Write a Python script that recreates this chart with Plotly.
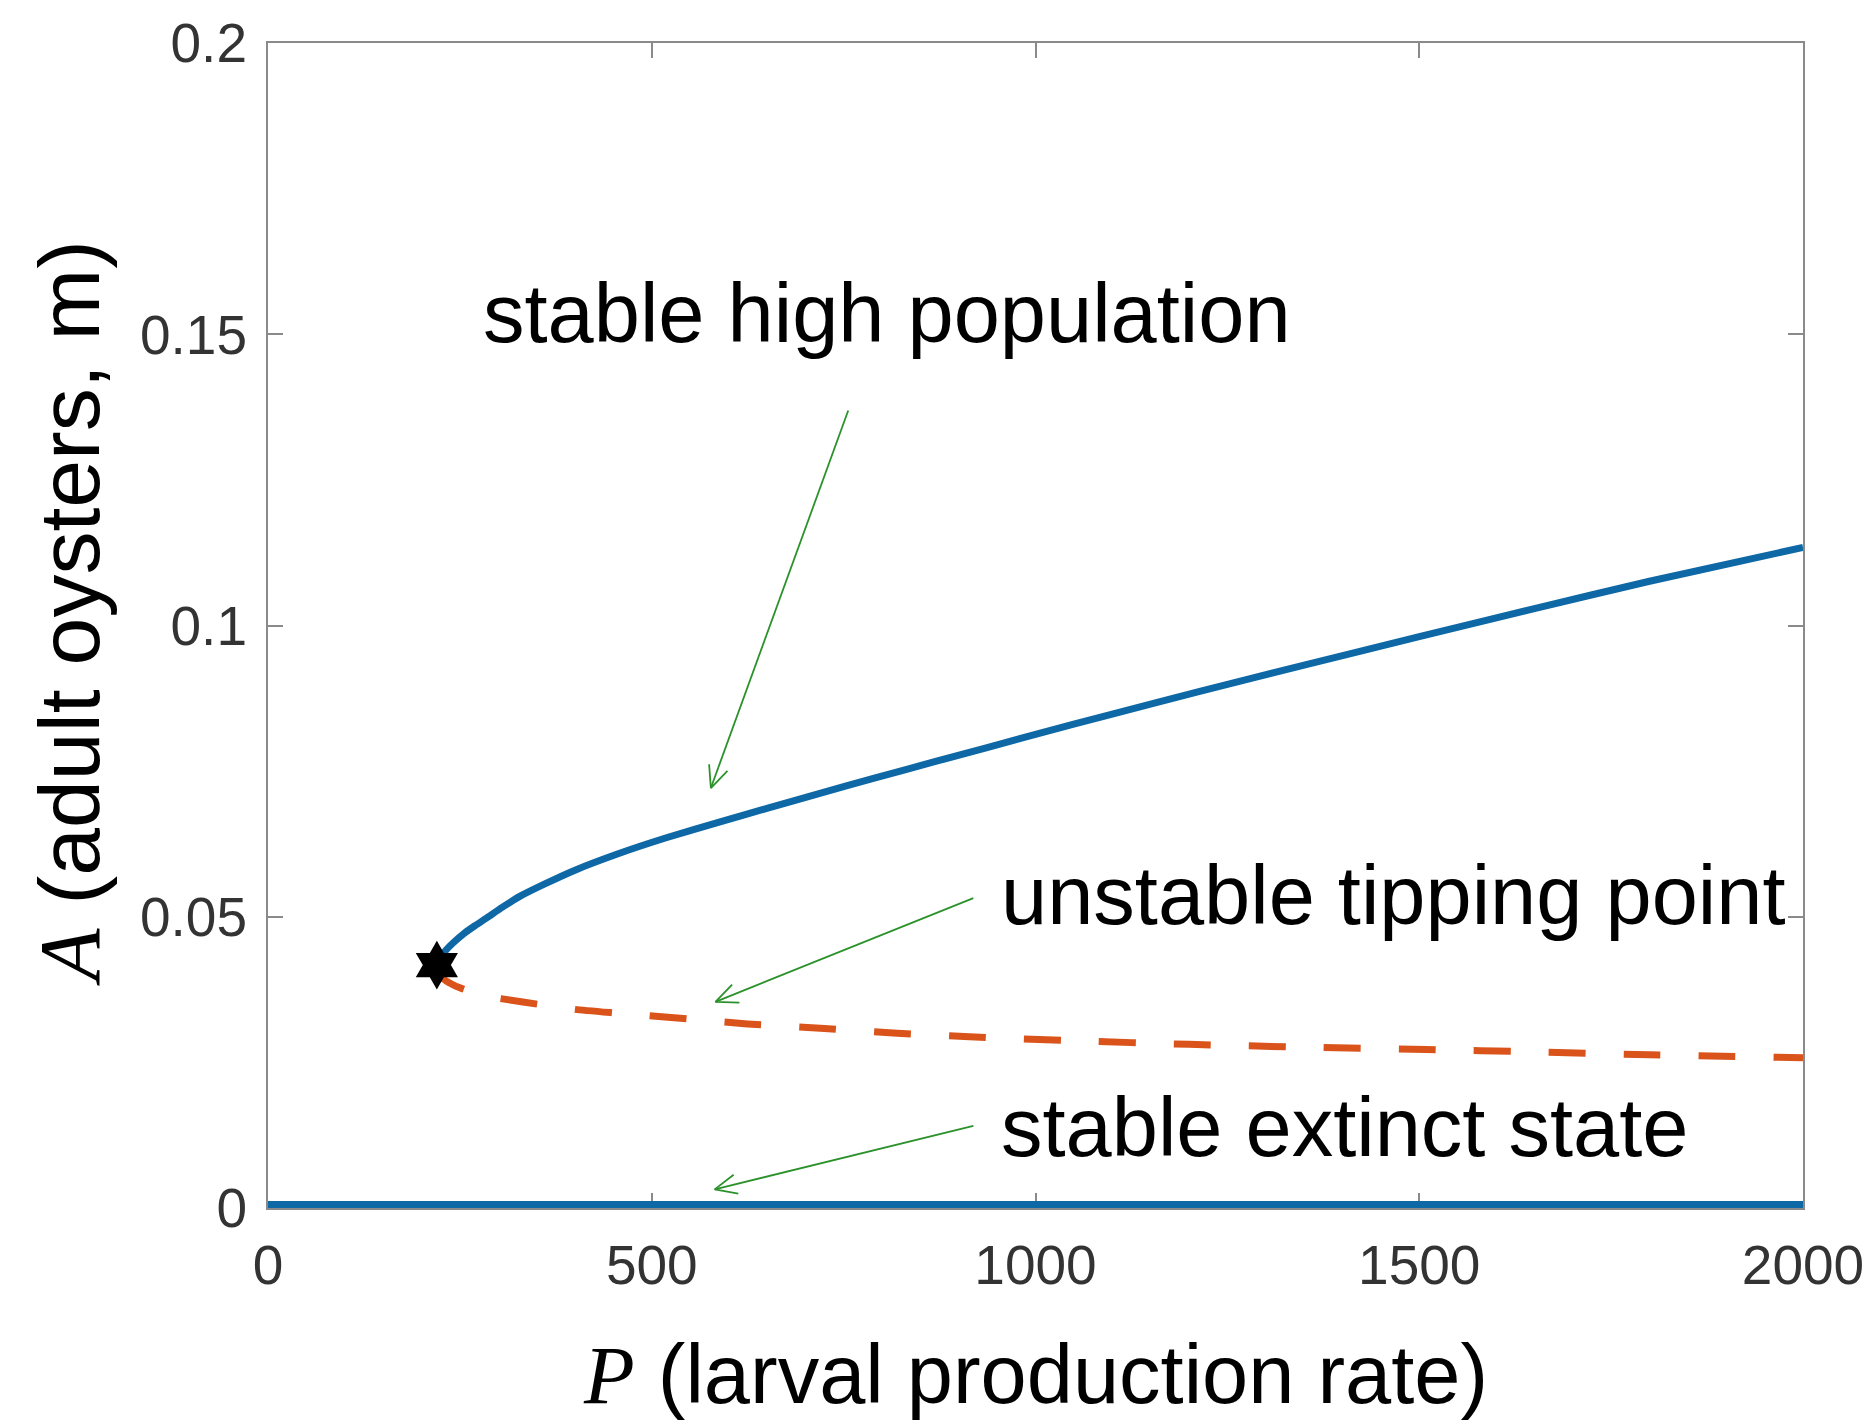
import numpy as np
import plotly.graph_objects as go

# Bifurcation diagram: adult oyster equilibria vs larval production rate
P_high = [220, 225, 232, 241, 255, 270, 285, 305, 328, 360, 400, 458, 520,
          589, 650, 719, 790, 871, 1000, 1100, 1214, 1350, 1500, 1650, 1800, 2000]
A_high = [0.0418, 0.0431, 0.0443, 0.0455, 0.0471, 0.0485, 0.0498, 0.0516,
          0.0535, 0.0556, 0.0580, 0.0609, 0.0636, 0.0663, 0.0686, 0.0712,
          0.0738, 0.0767, 0.0813, 0.0848, 0.0887, 0.0932, 0.0981, 0.1029,
          0.1076, 0.1134]

P_tip = [220, 225, 232, 250, 280, 330, 400, 450, 525, 625, 725, 820, 914,
         1050, 1200, 1350, 1509, 1650, 1800, 2000]
A_tip = [0.0414, 0.0398, 0.0390, 0.0378, 0.0365, 0.0354, 0.0341, 0.0335,
         0.0327, 0.0316, 0.0308, 0.0300, 0.0294, 0.0287, 0.0281, 0.0276,
         0.0272, 0.0268, 0.0263, 0.0258]

P_ext = [0, 2000]
A_ext = [0, 0]

P_fold = [220]
A_fold = [0.0417]

x_ticks = [0, 500, 1000, 1500, 2000]
x_tick_text = ["0", "500", "1000", "1500", "2000"]
y_ticks = [0, 0.05, 0.1, 0.15, 0.2]
y_tick_text = ["0", "0.05", "0.1", "0.15", "0.2"]

labels = ["stable high population", "unstable tipping point", "stable extinct state"]
label_P = [277, 953, 953]
label_A = [0.1536, 0.0537, 0.0138]
arrow_tail_P = [756, 919, 919]
arrow_tail_A = [0.1369, 0.0532, 0.0141]
arrow_head_P = [577, 583, 582]
arrow_head_A = [0.0721, 0.0354, 0.0032]

W, H = 1876, 1423
ML, MR, MT, MB = 268, 72, 32, 215
XR = [0, 2000]
YR = [0, 0.2]
kx = (W - ML - MR) / (XR[1] - XR[0])
ky = (H - MT - MB) / (YR[1] - YR[0])

BLUE = "#0e68a6"
ORANGE = "#d9531a"
GREEN = "#2b922b"
AXIS = "#8a8a8a"
TICKC = "#333333"
SANS = "Liberation Sans, Arial, sans-serif"
SERIF = "Liberation Serif, Times New Roman, serif"

fig = go.Figure()

# extinct branch sits on the bottom frame; half of it is clipped by the plot area
fig.add_trace(go.Scatter(x=P_ext, y=A_ext, mode="lines",
                         line=dict(color=BLUE, width=14), hoverinfo="skip"))
fig.add_trace(go.Scatter(x=P_high, y=A_high, mode="lines",
                         line=dict(color=BLUE, width=7, shape="spline", smoothing=0.5),
                         hoverinfo="skip"))
fig.add_trace(go.Scatter(x=P_tip, y=A_tip, mode="lines",
                         line=dict(color=ORANGE, width=7, dash="37px,38px",
                                   shape="spline", smoothing=0.5),
                         hoverinfo="skip"))
fig.add_trace(go.Scatter(x=P_fold, y=A_fold, mode="markers",
                         marker=dict(symbol="hexagram", size=37, color="black",
                                     line=dict(width=0)),
                         hoverinfo="skip"))

# arrows: straight shaft plus an open V head, built in pixel space
ax_pts, ay_pts = [], []
head_len = 24.0
half_ang = np.deg2rad(24)
for tx, ty, hx, hy in zip(arrow_tail_P, arrow_tail_A, arrow_head_P, arrow_head_A):
    ax_pts += [tx, hx, None]
    ay_pts += [ty, hy, None]
    dx = (hx - tx) * kx
    dy = (hy - ty) * ky
    n = np.hypot(dx, dy)
    ux, uy = dx / n, dy / n
    for s in (1, -1):
        c, sn = np.cos(s * half_ang), np.sin(s * half_ang)
        rx = ux * c - uy * sn
        ry = ux * sn + uy * c
        wx = hx - head_len * rx / kx
        wy = hy - head_len * ry / ky
        ax_pts += [wx, hx]
        ay_pts += [wy, hy]
    ax_pts.append(None)
    ay_pts.append(None)

fig.add_trace(go.Scatter(x=ax_pts, y=ay_pts, mode="lines",
                         line=dict(color=GREEN, width=1.8), hoverinfo="skip"))

annotations = []
for t, px_, py_ in zip(labels, label_P, label_A):
    annotations.append(dict(x=px_, y=py_, xref="x", yref="y", text=t,
                            showarrow=False, xanchor="left", yanchor="middle",
                            font=dict(family=SANS, size=83, color="black")))

annotations.append(dict(
    x=0.5, y=-0.143, xref="paper", yref="paper", showarrow=False,
    xanchor="center", yanchor="middle",
    text=f"<span style='font-family:{SERIF}'><i>P</i></span> (larval production rate)",
    font=dict(family=SANS, size=83, color="black")))
annotations.append(dict(
    x=-0.1295, y=0.511, xref="paper", yref="paper", showarrow=False,
    xanchor="center", yanchor="middle", textangle=-90,
    text=f"<span style='font-family:{SERIF}'><i>A</i></span> (adult oysters, m)",
    font=dict(family=SANS, size=86, color="black")))

axis_common = dict(showline=True, linecolor=AXIS, linewidth=2, mirror="allticks",
                   ticks="inside", ticklen=15, tickwidth=2, tickcolor=AXIS,
                   showgrid=False, zeroline=False, layer="below traces",
                   tickfont=dict(family=SANS, size=55, color=TICKC))

fig.update_layout(
    width=W, height=H,
    margin=dict(l=ML, r=MR, t=MT, b=MB, pad=0),
    paper_bgcolor="white", plot_bgcolor="white",
    showlegend=False,
    xaxis=dict(range=XR, tickvals=x_ticks, ticktext=x_tick_text,
               ticklabelstandoff=8, **axis_common),
    yaxis=dict(range=YR, tickvals=y_ticks, ticktext=y_tick_text,
               ticklabelstandoff=8, **axis_common),
    annotations=annotations,
)

fig.write_html("out.html", config={"displayModeBar": False})
